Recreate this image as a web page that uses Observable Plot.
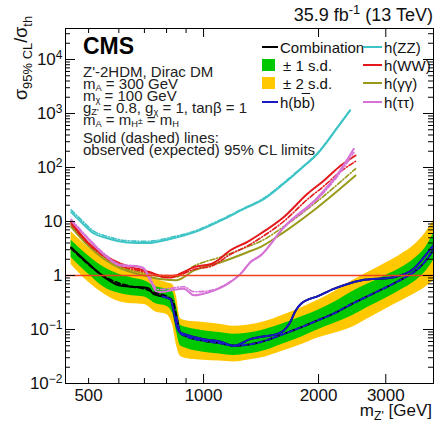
<!DOCTYPE html>
<html><head><meta charset="utf-8">
<script src="https://cdn.jsdelivr.net/npm/d3@7"></script>
<script src="https://cdn.jsdelivr.net/npm/@observablehq/plot@0.6"></script>
<style>
body{margin:0;background:#fff;}
#wrap{position:relative;width:436px;height:427px;font-family:"Liberation Sans",Arial,sans-serif;color:#111;}
.ov{position:absolute;white-space:nowrap;line-height:1;}
sub,sup{line-height:0;font-size:72%;}
.info{font-size:15px;line-height:14px;color:#222;}
.info sub{font-size:62%;vertical-align:-0.2em;}
.info sub sup{font-size:90%;vertical-align:0.35em;}
.leg{position:absolute;display:flex;align-items:center;height:16px;font-size:15px;white-space:nowrap;color:#111;}
.sw{display:inline-block;width:16px;height:2px;margin-right:2px;}
.sq{display:inline-block;width:13px;height:12px;margin-right:8px;}
</style></head><body><div id="wrap"></div>
<script>
// ---------- data ----------
const xDomain = [435, 4000];
const yDomain = [0.01, 37500];
const xTickLabels = [500, 1000, 2000, 3000];
const xMinorTicks = [500, 600, 700, 800, 900];
const xMajorTicks = [1000, 2000, 3000];
const yDecades = [1e-2, 1e-1, 1, 10, 100, 1e3, 1e4];
const unityLevel = [1];

// expected combination + bands
const massBand = [450, 500, 550, 600, 650, 700, 750, 800, 830, 850, 870, 900, 1000, 1100, 1200, 1300, 1450, 1600, 1800, 2000, 2200, 2450, 2700, 3000, 3300, 3550, 3800, 4000];
const expComb  = [3.2, 1.6, 0.95, 0.72, 0.62, 0.57, 0.47, 0.41, 0.34, 0.17, 0.085, 0.075, 0.062, 0.056, 0.05, 0.052, 0.062, 0.08, 0.11, 0.15, 0.2, 0.3, 0.42, 0.6, 0.85, 1.15, 1.8, 3.0];
const lo1 = [2.15, 1.05, 0.6, 0.47, 0.42, 0.4, 0.3, 0.27, 0.2, 0.09, 0.05, 0.045, 0.038, 0.035, 0.033, 0.035, 0.041, 0.053, 0.072, 0.1, 0.13, 0.18, 0.26, 0.38, 0.55, 0.75, 1.15, 1.9];
const hi1 = [4.5, 2.3, 1.4, 1.05, 0.9, 0.8, 0.62, 0.56, 0.5, 0.26, 0.12, 0.11, 0.095, 0.088, 0.082, 0.085, 0.1, 0.125, 0.17, 0.23, 0.32, 0.5, 0.7, 1.0, 1.4, 2.0, 3.2, 6.0];
const lo2 = [1.6, 0.75, 0.45, 0.33, 0.3, 0.29, 0.21, 0.19, 0.12, 0.05, 0.032, 0.029, 0.027, 0.026, 0.025, 0.027, 0.031, 0.039, 0.052, 0.07, 0.085, 0.11, 0.16, 0.24, 0.34, 0.45, 0.6, 0.8];
const hi2 = [6.5, 3.3, 2.1, 1.5, 1.25, 1.1, 0.85, 0.74, 0.68, 0.4, 0.16, 0.145, 0.135, 0.125, 0.115, 0.12, 0.14, 0.18, 0.25, 0.35, 0.5, 0.8, 1.15, 1.7, 2.5, 3.6, 6.0, 10.5];

// observed combination
const massObs = [450, 500, 550, 600, 650, 700, 720, 740, 780, 820, 835, 850, 865, 900, 1000, 1100, 1200, 1330, 1450, 1560, 1620, 1680, 1740, 1800, 2000, 2200, 2580, 3150, 3550, 3900, 4000];
const obsComb = [3.3, 1.65, 0.93, 0.66, 0.62, 0.6, 0.57, 0.45, 0.41, 0.36, 0.22, 0.12, 0.09, 0.08, 0.066, 0.06, 0.05, 0.067, 0.075, 0.083, 0.095, 0.13, 0.22, 0.3, 0.42, 0.57, 0.81, 0.93, 1.33, 2.9, 3.6];

// h(bb)
const massBB = [780, 820, 835, 850, 865, 900, 1000, 1100, 1200, 1330, 1450, 1560, 1620, 1680, 1740, 1800, 2000, 2200, 2580, 3150, 3550, 3900, 4000];
const obsBB  = [0.41, 0.36, 0.22, 0.12, 0.09, 0.08, 0.066, 0.06, 0.05, 0.067, 0.075, 0.083, 0.095, 0.13, 0.22, 0.3, 0.42, 0.57, 0.81, 0.93, 1.33, 2.9, 3.6];
const massBBexp = [850, 870, 900, 1000, 1100, 1200, 1300, 1450, 1600, 1800, 2000, 2200, 2450, 2700, 3000, 3300, 3550, 3800, 4000];
const expBB  = [0.17, 0.085, 0.075, 0.062, 0.056, 0.05, 0.052, 0.062, 0.08, 0.11, 0.15, 0.2, 0.3, 0.42, 0.6, 0.85, 1.15, 1.8, 3.0];

// h(ZZ)
const massZZ = [450, 480, 516, 560, 632, 713, 822, 944, 1109, 1303, 1412, 1620, 1800, 1990, 2246, 2420];
const obsZZ  = [14.9, 9.5, 6.0, 4.9, 4.1, 4.0, 4.8, 6.3, 10.4, 18.4, 24, 50, 95, 182, 557, 1140];
const expZZ  = [16.5, 10.5, 6.6, 5.3, 4.4, 4.3, 5.1, 6.6, 10.8, 19, 25, 52, 98, 188, 570, 1160];

// h(WW)
const massWW = [450, 498, 551, 606, 671, 725, 787, 822, 871, 944, 1052, 1100, 1157, 1310, 1412, 1620, 1874, 2064, 2288, 2500];
const obsWW  = [9.7, 4.1, 2.35, 1.65, 1.33, 1.15, 0.93, 0.92, 1.09, 1.43, 1.65, 2.0, 2.7, 4.3, 6.0, 12, 33, 57, 109, 167];
const expWW  = [9.0, 3.9, 2.2, 1.5, 1.25, 1.1, 1.0, 1.0, 1.05, 1.3, 1.5, 1.8, 2.3, 3.6, 5.0, 10, 26, 45, 85, 130];

// h(γγ)
const massGG = [450, 500, 550, 600, 700, 780, 850, 944, 1109, 1303, 1412, 1620, 1990, 2500];
const obsGG  = [8.0, 3.5, 2.0, 1.4, 1.0, 0.85, 0.82, 1.24, 1.76, 2.7, 3.4, 6.3, 18.4, 71];
const expGG  = [8.5, 3.8, 2.2, 1.5, 1.1, 0.95, 0.95, 1.5, 2.2, 3.4, 4.3, 8, 24, 95];

// h(ττ)
const massTT = [450, 498, 551, 606, 671, 696, 725, 757, 790, 822, 888, 944, 1033, 1157, 1251, 1327, 1412, 1620, 1990, 2246, 2475];
const obsTT  = [10.4, 4.8, 2.35, 1.53, 1.47, 1.35, 0.81, 0.49, 0.5, 0.53, 0.57, 0.43, 0.49, 0.70, 1.07, 1.76, 2.35, 7.8, 28, 76, 222];
const expTT  = [11, 5.0, 2.5, 1.6, 1.5, 1.4, 0.9, 0.55, 0.56, 0.58, 0.62, 0.5, 0.52, 0.72, 1.1, 1.8, 2.4, 7.5, 26, 70, 190];

// ---------- colours ----------
const C = {comb:"#000000", zz:"#3fc4c6", ww:"#e3191c", gg:"#9a9a1a", tt:"#d673d6", bb:"#1a1ac4",
           green:"#00c800", yellow:"#ffc800", unity:"#f0401e"};

// ---------- build ----------
const W = 436, H = 427, mL = 65, mR = 3, mT = 28, mB = 44;
const fw = W - mL - mR, fh = H - mT - mB;

const band = massBand.map((m,i)=>({m, e:expComb[i], lo1:lo1[i], hi1:hi1[i], lo2:lo2[i], hi2:hi2[i]}));
const zip = (ms, vs) => ms.map((m,i)=>({m, v:vs[i]}));

const yMinor = [];
for (const d of yDecades) for (let k=2;k<=9;k++){ const v=d*k; if (v<yDomain[1]) yMinor.push(v); }

const curve = "monotone-x";
const line = (ms, vs, stroke, dash, w=2) => Plot.line(zip(ms,vs), {x:"m", y:"v", stroke, strokeWidth:w, strokeDasharray:dash, curve, clip:true});

const yFmt = d => { const e = Math.round(Math.log10(d)); if (e===0) return "1"; if (e===1) return "10"; return "10^"+e; };

const chart = Plot.plot({
  width: W, height: H,
  marginLeft: mL, marginRight: mR, marginTop: mT, marginBottom: mB,
  style: {fontFamily: '"Liberation Sans", Arial, sans-serif', fontSize: "17px", color:"#111", background:"#fff"},
  x: {type:"log", domain:xDomain},
  y: {type:"log", domain:yDomain},
  marks: [
    Plot.areaY(band, {x:"m", y1:"lo2", y2:"hi2", fill:C.yellow, curve, clip:true}),
    Plot.areaY(band, {x:"m", y1:"lo1", y2:"hi1", fill:C.green, curve, clip:true}),
    line(massZZ, expZZ, C.zz, "5,2,1,2", 1.6),
    line(massZZ, obsZZ, C.zz, null),
    line(massGG, expGG, C.gg, "5,2,1,2", 1.6),
    line(massGG, obsGG, C.gg, null),
    line(massWW, expWW, C.ww, "5,2,1,2", 1.6),
    line(massWW, obsWW, C.ww, null),
    line(massTT, expTT, C.tt, "5,2,1,2", 1.6),
    line(massTT, obsTT, C.tt, null),
    line(massBand, expComb, C.comb, "5,3", 2),
    line(massObs, obsComb, C.comb, null),
    line(massBBexp, expBB, C.bb, "5,3", 2),
    line(massBB, obsBB, C.bb, null),
    Plot.ruleY(unityLevel, {y: d => d, stroke: C.unity, strokeWidth: 1.4}),
    // CMS-style inward ticks on all sides
    Plot.tickX(xMajorTicks, {x:d=>d, insetTop: fh-9, stroke:"#000"}),
    Plot.tickX(xMajorTicks, {x:d=>d, insetBottom: fh-9, stroke:"#000"}),
    Plot.tickX(xMinorTicks, {x:d=>d, insetTop: fh-5, stroke:"#000"}),
    Plot.tickX(xMinorTicks, {x:d=>d, insetBottom: fh-5, stroke:"#000"}),
    Plot.tickY(yDecades, {y:d=>d, insetRight: fw-10, stroke:"#000"}),
    Plot.tickY(yDecades, {y:d=>d, insetLeft: fw-10, stroke:"#000"}),
    Plot.tickY(yMinor, {y:d=>d, insetRight: fw-5, stroke:"#000"}),
    Plot.tickY(yMinor, {y:d=>d, insetLeft: fw-5, stroke:"#000"}),
    Plot.frame({stroke:"#000", strokeWidth:1}),
    Plot.axisX({ticks:xTickLabels, tickSize:0, tickPadding:5, tickFormat:d=>String(d), fontSize:17, label:null}),
    Plot.axisY({ticks:yDecades, tickSize:0, tickPadding:3, tickFormat:yFmt, fontSize:17, label:null})
  ]
});

// superscripts on the y tick labels
const NS = "http://www.w3.org/2000/svg";
chart.querySelectorAll("text").forEach(t => {
  const s = t.textContent;
  if (!s.includes("^")) return;
  const [b, e] = s.split("^");
  t.textContent = "";
  const t1 = document.createElementNS(NS, "tspan"); t1.textContent = b; t.appendChild(t1);
  const t2 = document.createElementNS(NS, "tspan");
  t2.setAttribute("dy", "-0.5em"); t2.setAttribute("font-size", "12px");
  t2.textContent = e.replace("-", "\u2212"); t.appendChild(t2);
});

const wrap = document.getElementById("wrap");
wrap.appendChild(chart);

// ---------- overlay texts ----------
function ov(html, style, cls="ov") {
  const d = document.createElement("div"); d.className = cls; d.innerHTML = html;
  Object.assign(d.style, style); wrap.appendChild(d); return d;
}
ov("35.9 fb<sup>-1</sup> (13 TeV)", {right:"3px", top:"6px", fontSize:"18px"});
ov("CMS", {left:"83px", top:"35px", fontSize:"23px", fontWeight:"bold", color:"#000"});
const info = [
  ["Z'-2HDM, Dirac DM", 65],
  ["m<sub>A</sub> = 300 GeV", 77],
  ["m<sub>χ</sub> = 100 GeV", 89],
  ["g<sub>Z'</sub> = 0.8, g<sub>χ</sub> = 1, tanβ = 1", 101],
  ["m<sub>A</sub> = m<sub>H<sup>±</sup></sub> = m<sub>H</sub>", 113],
  ["Solid (dashed) lines:", 131],
  ["observed (expected) 95% CL limits", 143]
];
for (const [h, top] of info) ov(h, {left:"83px", top: top+"px"}, "ov info");

ov("σ<sub>95% CL</sub>/σ<sub>th</sub>", {left:"12px", top:"100px", fontSize:"18px", transform:"rotate(-90deg)", transformOrigin:"0 0"});
ov("m<sub>Z'</sub> [GeV]", {right:"4px", top:"402px", fontSize:"17px"});

// legend
const legRows = [39, 57, 75, 94];
function legItem(x, row, swatch, label) {
  const d = document.createElement("div"); d.className = "leg";
  d.style.left = x + "px"; d.style.top = legRows[row] + "px";
  d.innerHTML = swatch + "<span>" + label + "</span>"; wrap.appendChild(d);
}
const lineSw = (c, w=16) => `<span class="sw" style="background:${c};width:${w}px"></span>`;
const sqSw = c => `<span class="sq" style="background:${c}"></span>`;
legItem(262, 0, lineSw(C.comb), "Combination");
legItem(262, 1, sqSw(C.green), "± 1 s.d.");
legItem(262, 2, sqSw(C.yellow), "± 2 s.d.");
legItem(262, 3, lineSw(C.bb), "h(b<span style='text-decoration:overline'>b</span>)");
legItem(363, 0, lineSw(C.zz, 19), "h(ZZ)");
legItem(363, 1, lineSw(C.ww, 19), "h(WW)");
legItem(363, 2, lineSw(C.gg, 19), "h(γγ)");
legItem(363, 3, lineSw(C.tt, 19), "h(ττ)");
</script></body></html>
